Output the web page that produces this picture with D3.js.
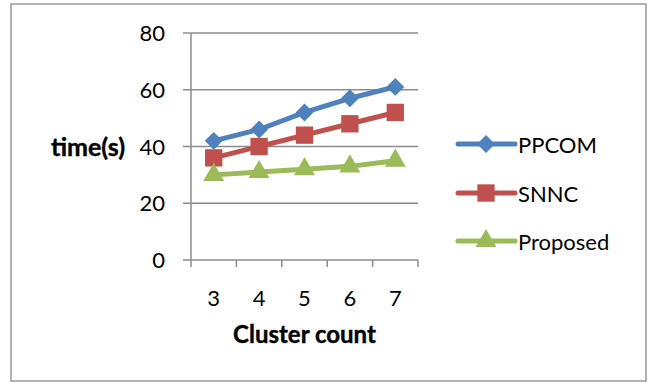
<!DOCTYPE html>
<html>
<head>
<meta charset="utf-8">
<script src="https://cdn.jsdelivr.net/npm/d3@7"></script>
<style>
  html, body { margin: 0; padding: 0; background: #fff; }
  svg { display: block; }
</style>
</head>
<body>
<svg id="chart" width="649" height="383"></svg>
<script>
// Cluster counts on the x axis
const categories = ["3", "4", "5", "6", "7"];
// Run time in seconds for each method
const ppcom = [42, 46, 52, 57, 61];
const snnc = [36, 40, 44, 48, 52];
const proposed = [30, 31, 32, 33, 35];
const yTicks = [0, 20, 40, 60, 80];
const seriesNames = ["PPCOM", "SNNC", "Proposed"];

// rotated square used as the diamond marker
const squareDiamond = {
  draw(ctx, size) {
    const r = Math.sqrt(size / 2);
    ctx.moveTo(0, -r); ctx.lineTo(r, 0); ctx.lineTo(0, r); ctx.lineTo(-r, 0); ctx.closePath();
  }
};

const series = [
  { name: seriesNames[0], values: ppcom, color: "#4F81BD", marker: squareDiamond, size: 160 },
  { name: seriesNames[1], values: snnc, color: "#C0504D", marker: d3.symbolSquare, size: 300 },
  { name: seriesNames[2], values: proposed, color: "#9BBB59", marker: d3.symbolTriangle, size: 190 }
];

const svg = d3.select("#chart");
const font = "Lato, 'Open Sans', sans-serif";

// outer frame
svg.append("rect")
  .attr("x", 11).attr("y", 4).attr("width", 635).attr("height", 377)
  .attr("fill", "#fff").attr("stroke", "#9a9a9a").attr("stroke-width", 1.5);

const plot = { left: 191, right: 418, top: 33, bottom: 260 };

const x = d3.scaleBand().domain(categories).range([plot.left, plot.right]);
const y = d3.scaleLinear().domain([0, 80]).range([plot.bottom, plot.top]);

// horizontal gridlines
svg.append("g").selectAll("line").data(yTicks).join("line")
  .attr("x1", plot.left - 8).attr("x2", plot.right)
  .attr("y1", d => y(d)).attr("y2", d => y(d))
  .attr("stroke", "#8c8c8c").attr("stroke-width", 1.5);

// y axis line
svg.append("line")
  .attr("x1", plot.left).attr("x2", plot.left)
  .attr("y1", plot.top).attr("y2", plot.bottom)
  .attr("stroke", "#8c8c8c").attr("stroke-width", 1.5);

// x category tick marks at band edges
const edges = categories.map(c => x(c)).concat([plot.right]);
svg.append("g").selectAll("line").data(edges).join("line")
  .attr("x1", d => d).attr("x2", d => d)
  .attr("y1", plot.bottom).attr("y2", plot.bottom + 7)
  .attr("stroke", "#8c8c8c").attr("stroke-width", 1.5);

// y tick labels
svg.append("g").selectAll("text").data(yTicks).join("text")
  .attr("x", 165).attr("y", d => y(d) + 8)
  .attr("text-anchor", "end")
  .attr("font-family", font).attr("font-size", 22).attr("fill", "#000")
  .text(d => d);

// x tick labels
svg.append("g").selectAll("text").data(categories).join("text")
  .attr("x", d => x(d) + x.bandwidth() / 2).attr("y", 306)
  .attr("text-anchor", "middle")
  .attr("font-family", font).attr("font-size", 22).attr("fill", "#000")
  .text(d => d);

// axis titles
svg.append("text")
  .attr("x", (plot.left + plot.right) / 2).attr("y", 343)
  .attr("text-anchor", "middle")
  .attr("font-family", font).attr("font-weight", "bold").attr("font-size", 24)
  .attr("stroke", "#000").attr("stroke-width", 0.4)
  .text("Cluster count");

svg.append("text")
  .attr("x", 88).attr("y", 156)
  .attr("text-anchor", "middle")
  .attr("font-family", font).attr("font-weight", "bold").attr("font-size", 25)
  .attr("stroke", "#000").attr("stroke-width", 0.4)
  .text("time(s)");

const line = d3.line()
  .x((d, i) => x(categories[i]) + x.bandwidth() / 2)
  .y(d => y(d));

series.forEach(s => {
  svg.append("path")
    .datum(s.values)
    .attr("d", line)
    .attr("fill", "none")
    .attr("stroke", s.color)
    .attr("stroke-width", 5)
    .attr("stroke-linejoin", "round")
    .attr("stroke-linecap", "round");
  svg.append("g").selectAll("path").data(s.values).join("path")
    .attr("transform", (d, i) => `translate(${x(categories[i]) + x.bandwidth() / 2},${y(d)})`)
    .attr("d", d3.symbol().type(s.marker).size(s.size))
    .attr("fill", s.color);
});

// legend
const legendY = [144, 193, 241];
series.forEach((s, i) => {
  const g = svg.append("g").attr("transform", `translate(0,${legendY[i]})`);
  g.append("line")
    .attr("x1", 458).attr("x2", 515).attr("y1", 0).attr("y2", 0)
    .attr("stroke", s.color).attr("stroke-width", 5).attr("stroke-linecap", "round");
  g.append("path")
    .attr("transform", "translate(486,0)")
    .attr("d", d3.symbol().type(s.marker).size(s.size))
    .attr("fill", s.color);
  g.append("text")
    .attr("x", 518).attr("y", 9)
    .attr("font-family", font).attr("font-size", 22).attr("fill", "#000")
    .text(s.name);
});
</script>
</body>
</html>
